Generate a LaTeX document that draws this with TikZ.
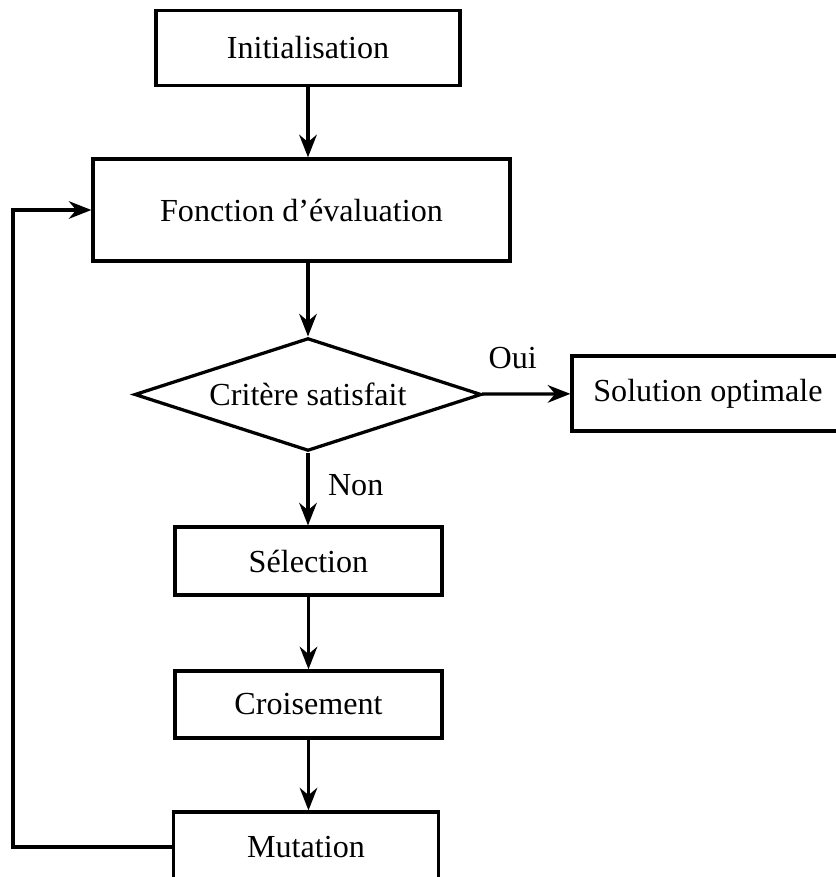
\documentclass[tikz,border=0pt]{standalone}
\usepackage{fontspec}
\setmainfont{Liberation Serif}
\usetikzlibrary{shapes.geometric, arrows.meta}

\begin{document}
\begin{tikzpicture}[x=0.014cm, y=-0.014cm, font=\fontsize{12.8}{15}\selectfont,
    box/.style={draw, line width=1.3pt, rectangle, inner sep=0pt},
    decision/.style={draw, line width=1.3pt, diamond, aspect=3, inner sep=0pt,
                     minimum width=4.86cm, minimum height=1.58cm},
    fleche/.style={line width=1.3pt, -{Stealth[length=9pt, width=7pt]}}]
    \useasboundingbox (0,0) rectangle (836,877);
    % blocs
    \node[box, minimum width=4.26cm, minimum height=1.06cm] (init) at (308,48) {Initialisation};
    \node[box, minimum width=5.84cm, minimum height=1.43cm] (eval) at (301.5,210) {Fonction d'évaluation};
    \node[decision] (crit) at (308,394.5) {Critère satisfait};
    \node[box, minimum width=3.81cm, minimum height=1.05cm] (sol) at (708,393.5) {Solution optimale};
    \node[box, minimum width=3.74cm, minimum height=0.95cm] (sel) at (308.5,561) {Sélection};
    \node[box, minimum width=3.74cm, minimum height=0.94cm] (crois) at (308.5,704.5) {Croisement};
    \node[box, minimum width=3.72cm, minimum height=0.98cm] (mut) at (306,847) {Mutation};
    \coordinate (retour) at (13,847);
    % fleches
    \draw[fleche] (init.south) -- (init.south |- eval.north);
    \draw[fleche] (eval.south -| crit.north) -- (crit);
    \draw[fleche] (crit) -- node[above=6pt, pos=0.35] {Oui} (sol);
    \draw[fleche] (crit.south) -- node[right=4pt, pos=0.45] {Non} (crit.south |- sel.north);
    \draw[fleche] (sel) -- (crois);
    \draw[fleche] (crois) -- (crois.south |- mut.north);
    \draw[fleche] (mut.west) -- (retour) |- (eval.west);
\end{tikzpicture}
\end{document}
